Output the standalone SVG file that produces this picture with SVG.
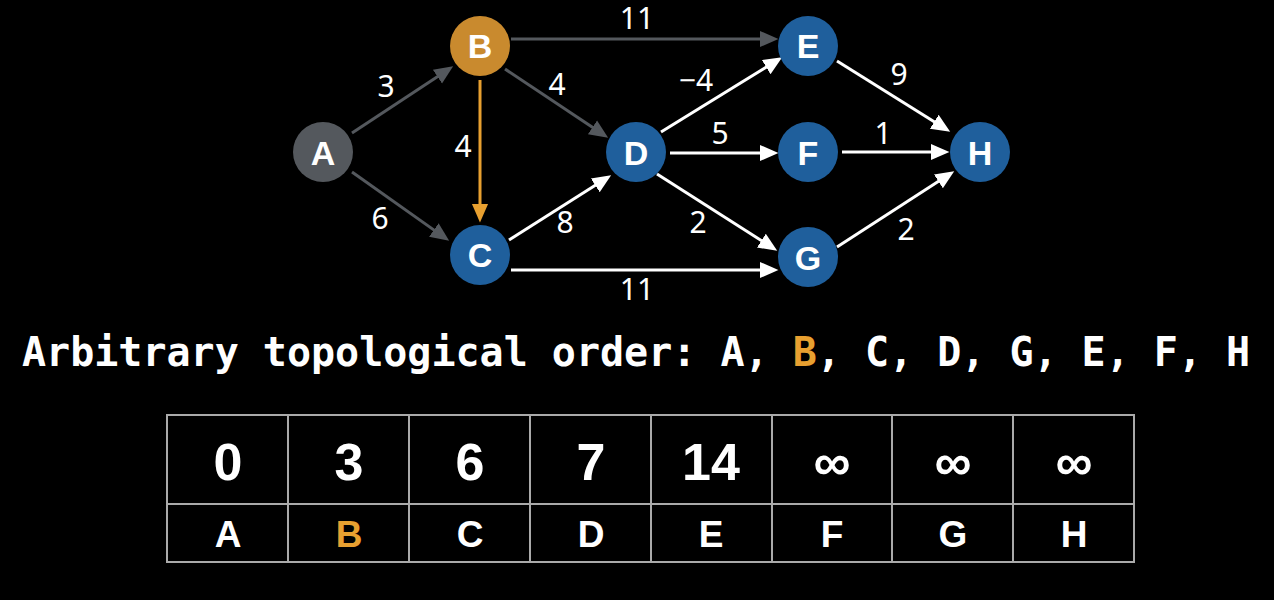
<svg xmlns="http://www.w3.org/2000/svg" width="1274" height="600" viewBox="0 0 1274 600">
<style>
.nd{font-family:"Liberation Sans",Arial,sans-serif;font-weight:bold;font-size:34px;fill:#fff;text-anchor:middle}
.el{font-family:"Noto Sans","Open Sans",sans-serif;font-size:30px;fill:#fff;text-anchor:middle}
.e{fill:none;stroke-width:3}
.g{stroke:#54585d}
.w{stroke:#fff}
.o{stroke:#e8a030}
.title{font-family:"DejaVu Sans Mono",monospace;font-weight:bold;font-size:40px;fill:#fff}
.num{font-family:"Liberation Sans",Arial,sans-serif;font-weight:bold;font-size:52px;fill:#fff;text-anchor:middle}
.lab{font-family:"Liberation Sans",Arial,sans-serif;font-weight:bold;font-size:37px;fill:#fff;text-anchor:middle}
.grid{stroke:#aaa;stroke-width:2;fill:none}
</style>
<defs>
<marker id="mg" markerUnits="userSpaceOnUse" markerWidth="20" markerHeight="20" refX="8" refY="0" viewBox="0 -8 17 16" orient="auto"><path d="M0,-7 L16,0 L0,7 z" fill="#54585d"/></marker>
<marker id="mw" markerUnits="userSpaceOnUse" markerWidth="20" markerHeight="20" refX="8" refY="0" viewBox="0 -8 17 16" orient="auto"><path d="M0,-7 L16,0 L0,7 z" fill="#fff"/></marker>
<marker id="mo" markerUnits="userSpaceOnUse" markerWidth="20" markerHeight="20" refX="8" refY="0" viewBox="0 -8 17 16" orient="auto"><path d="M0,-7 L16,0 L0,7 z" fill="#e8a030"/></marker>
</defs>
<rect width="1274" height="600" fill="#000"/>
<g id="connectors">
<line class="e g" x1="352" y1="133" x2="445.3" y2="71.4" marker-end="url(#mg)"/>
<line class="e g" x1="352" y1="172" x2="441.5" y2="235.4" marker-end="url(#mg)"/>
<line class="e o" x1="480" y1="80" x2="480" y2="213" marker-end="url(#mo)"/>
<line class="e g" x1="505" y1="69" x2="600.3" y2="132.6" marker-end="url(#mg)"/>
<line class="e g" x1="511" y1="39" x2="769" y2="39" marker-end="url(#mg)"/>
<line class="e w" x1="509" y1="240" x2="603.2" y2="180.3" marker-end="url(#mw)"/>
<line class="e w" x1="511" y1="270" x2="769" y2="270" marker-end="url(#mw)"/>
<line class="e w" x1="661" y1="132" x2="774.2" y2="62.2" marker-end="url(#mw)"/>
<line class="e w" x1="670" y1="153" x2="769" y2="153" marker-end="url(#mw)"/>
<line class="e w" x1="657" y1="174" x2="769.3" y2="245.7" marker-end="url(#mw)"/>
<line class="e w" x1="837" y1="61" x2="942.2" y2="126.8" marker-end="url(#mw)"/>
<line class="e w" x1="842" y1="152" x2="940" y2="152" marker-end="url(#mw)"/>
<line class="e w" x1="837" y1="247" x2="946.3" y2="176.3" marker-end="url(#mw)"/>
<text class="el" x="386" y="97">3</text>
<text class="el" x="380" y="229">6</text>
<text class="el" x="463" y="157">4</text>
<text class="el" x="557" y="95">4</text>
<text class="el" x="565" y="233">8</text>
<text class="el" x="637" y="29">11</text>
<text class="el" x="637" y="300">11</text>
<text class="el" x="696" y="91">−4</text>
<text class="el" x="720" y="144">5</text>
<text class="el" x="698" y="233">2</text>
<text class="el" x="899" y="85">9</text>
<text class="el" x="883" y="144">1</text>
<text class="el" x="906" y="240">2</text>
</g>
<g id="A"><circle cx="323" cy="152" r="30" fill="#54585d"/><text class="nd" x="323" y="165">A</text></g>
<g id="B"><circle cx="480" cy="46" r="30" fill="#c98a2e"/><text class="nd" x="480" y="58">B</text></g>
<g id="C"><circle cx="480" cy="255" r="30" fill="#1f5f9c"/><text class="nd" x="480" y="267">C</text></g>
<g id="D"><circle cx="636" cy="152" r="30" fill="#1f5f9c"/><text class="nd" x="636" y="165">D</text></g>
<g id="E"><circle cx="808" cy="46" r="30" fill="#1f5f9c"/><text class="nd" x="808" y="58">E</text></g>
<g id="F"><circle cx="808" cy="152" r="30" fill="#1f5f9c"/><text class="nd" x="808" y="165">F</text></g>
<g id="G"><circle cx="808" cy="257" r="30" fill="#1f5f9c"/><text class="nd" x="808" y="270">G</text></g>
<g id="H"><circle cx="980" cy="152" r="30" fill="#1f5f9c"/><text class="nd" x="980" y="165">H</text></g>
<text class="title" x="22" y="366" xml:space="preserve">Arbitrary topological order: A, <tspan fill="#e8a030">B</tspan>, C, D, G, E, F, H</text>
<g id="table">
<rect class="grid" x="167" y="415" width="967" height="147"/>
<line class="grid" x1="167" y1="504" x2="1134" y2="504"/>
<line class="grid" x1="288" y1="415" x2="288" y2="562"/>
<line class="grid" x1="409" y1="415" x2="409" y2="562"/>
<line class="grid" x1="530" y1="415" x2="530" y2="562"/>
<line class="grid" x1="651" y1="415" x2="651" y2="562"/>
<line class="grid" x1="772" y1="415" x2="772" y2="562"/>
<line class="grid" x1="892" y1="415" x2="892" y2="562"/>
<line class="grid" x1="1013" y1="415" x2="1013" y2="562"/>
<text class="num" x="228" y="480">0</text>
<text class="num" x="349" y="480">3</text>
<text class="num" x="470" y="480">6</text>
<text class="num" x="591" y="480">7</text>
<text class="num" x="711" y="480">14</text>
<text class="num" x="832" y="480">∞</text>
<text class="num" x="953" y="480">∞</text>
<text class="num" x="1074" y="480">∞</text>
<text class="lab" x="228" y="547">A</text>
<text class="lab" x="349" y="547" fill="#e8a030" style="fill:#e8a030">B</text>
<text class="lab" x="470" y="547">C</text>
<text class="lab" x="591" y="547">D</text>
<text class="lab" x="711" y="547">E</text>
<text class="lab" x="832" y="547">F</text>
<text class="lab" x="953" y="547">G</text>
<text class="lab" x="1074" y="547">H</text>
</g>
</svg>
